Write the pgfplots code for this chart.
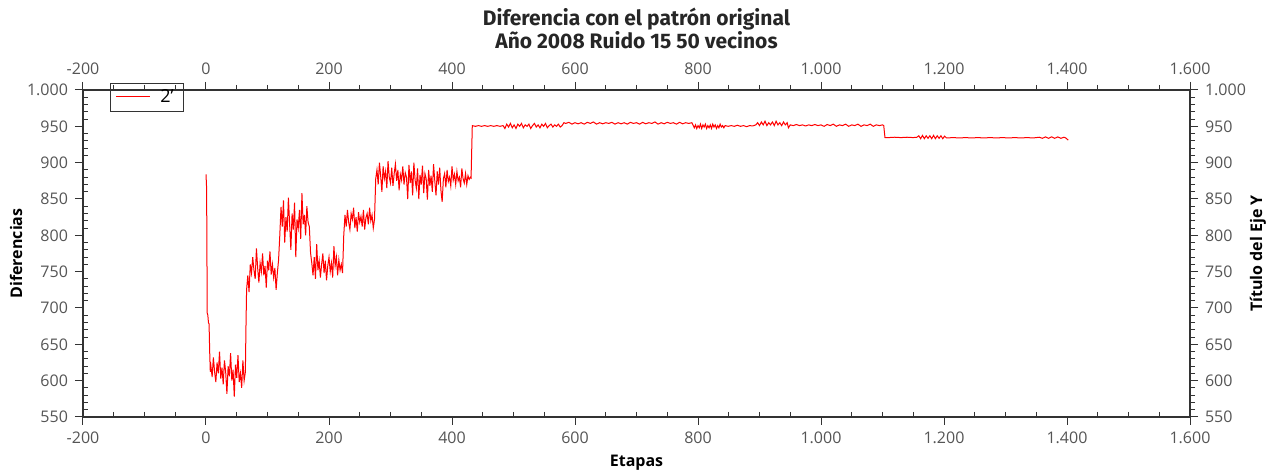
\documentclass[border=0pt]{standalone}
\usepackage{fontspec}
\setmainfont{Open Sans}
\newfontfamily\titlefont{Fira Sans}
\usepackage{pgfplots}
\pgfplotsset{compat=1.18}
\definecolor{ticklab}{HTML}{555555}
\definecolor{axline}{HTML}{333333}

\pgfplotsset{
  /pgf/number format/.cd, 1000 sep={.}, assume math mode=true,
  /pgfplots/.cd,
  chartbase/.style={
    scale only axis, width=553.5pt, height=163.5pt,
    xmin=-200, xmax=1600, ymin=550, ymax=1000,
    xtick={-200,0,...,1600}, ytick={550,600,...,1000},
    minor x tick num=3, minor y tick num=4,
    tick align=outside, major tick length=4pt,
    tick style={axline, line width=0.5pt},
    axis line style={axline, line width=0.6pt},
    ticklabel style={font=\fontsize{8}{9}\selectfont, text=ticklab},
    label style={font=\fontsize{8}{9}\selectfont\bfseries},
  },
}

\begin{document}
\begin{tikzpicture}
\path[use as bounding box] (-41.5pt,-29pt) rectangle (595.5pt,208.5pt);

% eje superior y derecho
\begin{axis}[chartbase,
  axis x line*=top, axis y line*=right,
  minor tick length=2.5pt,
  ylabel={Título del Eje Y},
  ylabel style={at={(axis description cs:1,0.5)}, anchor=center, yshift=-34pt},
]
\end{axis}

% eje principal
\begin{axis}[chartbase,
  axis x line*=bottom, axis y line*=left,
  minor tick length=-2.5pt,
  xlabel={Etapas}, ylabel={Diferencias},
  xlabel style={at={(axis description cs:0.5,0)}, yshift=-23pt, anchor=center},
  ylabel style={at={(axis description cs:0,0.5)}, anchor=center, yshift=33.5pt},
  legend style={at={(axis description cs:0.0578,0.977)}, anchor=center,
    draw=axline, line width=0.5pt, fill=none,
    font=\fontsize{9}{10}\selectfont, inner xsep=3pt, inner ysep=1pt},
  legend image code/.code={%
    \node[text=red, inner sep=0pt, anchor=west] at (0pt,0pt) {\rule[-0.3pt]{17pt}{0.7pt}};},
]
\addplot[red, line width=0.5pt] coordinates {
(0,884) (1,865) (2,693) (3,690) (4,680) (5,678) (6,640) (7,612)
(8,620) (10,605) (12,632) (14,612) (16,598) (18,625) (20,610) (22,640)
(24,603) (26,618) (28,595) (30,628) (32,612) (34,582) (36,620) (38,606)
(40,638) (42,600) (44,615) (46,578) (48,622) (50,604) (52,635) (54,598)
(56,610) (58,590) (60,628) (62,600) (64,612) (65,674) (66,725) (68,745)
(70,722) (72,760) (74,748) (76,770) (78,752) (80,740) (82,782) (84,755)
(86,735) (88,762) (90,750) (92,775) (94,745) (96,758) (98,728) (100,765)
(102,752) (104,778) (106,746) (108,760) (110,742) (112,755) (114,725) (116,748)
(118,766) (120,800) (122,839) (124,812) (126,848) (128,790) (130,825) (132,805)
(134,852) (136,815) (138,780) (140,830) (142,808) (144,845) (146,770) (148,822)
(150,810) (152,835) (154,795) (156,858) (158,815) (160,828) (162,800) (164,840)
(166,818) (168,812) (170,776) (172,762) (174,745) (176,770) (178,740) (180,788)
(182,752) (184,765) (186,742) (188,760) (190,775) (192,748) (194,765) (196,738)
(198,758) (200,770) (202,750) (204,762) (206,742) (208,785) (210,758) (212,770)
(214,745) (216,766) (218,752) (220,760) (222,748) (224,800) (226,828) (228,812)
(230,835) (232,818) (234,808) (236,830) (238,822) (240,838) (242,810) (244,825)
(246,805) (248,832) (250,818) (252,826) (254,812) (256,835) (258,808) (260,824)
(262,830) (264,815) (266,838) (268,820) (270,828) (272,810) (274,822) (276,878)
(278,890) (280,870) (282,900) (284,882) (286,860) (288,895) (290,878) (292,888)
(294,865) (296,902) (298,880) (300,872) (302,893) (304,868) (306,885) (308,898)
(310,875) (312,890) (314,862) (316,884) (318,876) (320,895) (322,870) (324,886)
(326,880) (328,850) (330,897) (332,872) (334,888) (336,855) (338,900) (340,876)
(342,865) (344,892) (346,850) (348,883) (350,870) (352,896) (354,858) (356,885)
(358,878) (360,849) (362,890) (364,868) (366,882) (368,860) (370,898) (372,875)
(374,855) (376,888) (378,870) (380,893) (382,862) (384,846) (386,878) (388,885)
(390,866) (392,890) (394,874) (396,880) (398,868) (400,895) (402,876) (404,884)
(406,870) (408,888) (410,875) (412,880) (414,866) (416,892) (418,878) (420,872)
(422,885) (424,870) (426,882) (428,877) (430,880) (431,879)
(433,951) (438,950) (443,951) (448,950) (453,951) (458,950) (463,951) (468,950)
(473,951) (478,950) (483,951) (486,947) (489,953) (492,949) (495,954) (498,948)
(501,952) (504,947) (507,953) (510,950) (513,954) (516,948) (519,952) (522,950)
(525,953) (528,947) (531,951) (534,954) (537,949) (540,952) (543,948) (546,953)
(549,950) (552,954) (555,948) (558,951) (561,953) (564,949) (567,952) (570,950)
(573,953) (576,949) (579,951) (582,955) (585,954) (590,955.5) (595,953) (600,955)
(605,953.5) (610,955) (615,953) (620,955.5) (625,954) (630,956) (635,953) (640,955)
(645,953.5) (650,955) (655,954) (660,955.5) (665,953) (670,955) (675,953.5) (680,955)
(685,953) (690,955.5) (695,954) (700,955) (705,953) (710,955.5) (715,953.5) (720,955)
(725,954) (730,956) (735,953) (740,955) (745,953.5) (750,955.5) (755,954) (760,955)
(765,953) (770,955.5) (775,953.5) (780,955) (785,954) (790,955)
(794,948) (796,952) (798,947) (800,951) (802,948) (804,953) (806,947) (808,952)
(810,949) (812,953) (814,947) (816,951) (818,948) (820,952) (822,947) (824,953)
(826,949) (828,952) (830,947) (832,951) (834,948) (836,953) (838,949) (840,951)
(842,948) (844,951) (849,950) (854,951) (859,950) (864,951.5) (869,950) (874,951)
(879,949.5) (884,951) (889,950.5) (894,952) (897,955) (900,951) (903,956) (906,952)
(909,957) (912,951) (915,955) (918,952) (921,956) (924,951) (927,957) (930,952)
(933,955) (936,951) (939,956) (942,952) (945,955) (947,948) (950,952) (955,951)
(960,952.5) (965,951) (970,952) (975,950.5) (980,952) (985,951) (990,952.5) (995,951)
(1000,952) (1005,950) (1010,952.5) (1015,951) (1020,953) (1025,950) (1030,952) (1035,951)
(1040,953) (1045,950) (1050,952) (1055,951) (1060,953) (1065,950) (1070,952) (1075,951)
(1080,953) (1085,950) (1090,952) (1095,951) (1100,952) (1102,951)
(1104,934.5) (1110,934.5) (1120,935) (1130,934.5) (1140,935) (1150,934.5) (1156,935)
(1159,937) (1162,933) (1165,937.5) (1168,933) (1171,937) (1174,933.5) (1177,937) (1180,933)
(1183,937.5) (1186,933) (1189,937) (1192,933.5) (1195,937) (1198,933) (1201,936.5) (1204,934)
(1215,934.5) (1225,934) (1235,934.5) (1245,934) (1255,934.5) (1265,934) (1275,934.5) (1285,934)
(1295,934.5) (1305,934) (1315,934.5) (1325,934) (1335,934.5) (1345,934) (1355,935) (1360,933.5)
(1365,935.5) (1370,933.5) (1375,935.5) (1380,933.5) (1385,935.5) (1390,933.5) (1395,935) (1398,934)
(1402,931)
};
\addlegendentry{\hspace{3pt}2'}
\end{axis}

\node[align=center, font=\titlefont\fontsize{10.5}{11.5}\selectfont\bfseries, text=black!85]
  at (276.75pt,194.25pt) {Diferencia con el patrón original\\Año 2008 Ruido 15 50 vecinos};
\end{tikzpicture}
\end{document}
